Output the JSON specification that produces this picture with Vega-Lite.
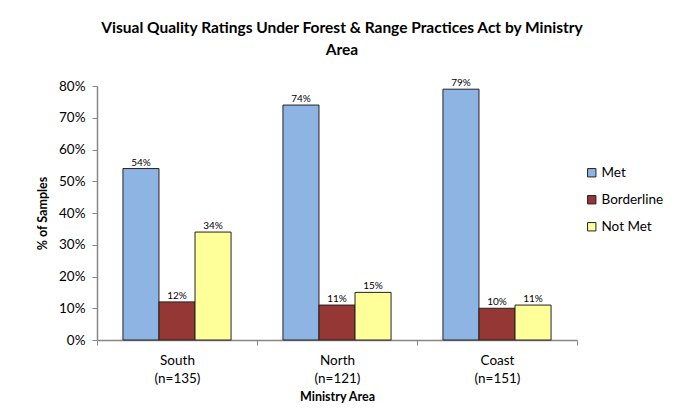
{
  "$schema": "https://vega.github.io/schema/vega-lite/v6.json",
  "width": 480,
  "height": 254,
  "autosize": "none",
  "padding": {"left": 97, "top": 86, "right": 101, "bottom": 70},
  "background": "white",
  "config": {
    "font": "Lato",
    "view": {"stroke": null}
  },
  "title": {
    "text": ["Visual Quality Ratings Under Forest & Range Practices Act by Ministry", "Area"],
    "fontSize": 15.5,
    "fontWeight": "bold",
    "lineHeight": 22,
    "anchor": "middle",
    "offset": 20,
    "dx": 5,
    "color": "black"
  },
  "data": {
    "values": [
      {"area": "South (n=135)", "rating": "Met", "value": 0.54},
      {"area": "South (n=135)", "rating": "Borderline", "value": 0.12},
      {"area": "South (n=135)", "rating": "Not Met", "value": 0.34},
      {"area": "North (n=121)", "rating": "Met", "value": 0.74},
      {"area": "North (n=121)", "rating": "Borderline", "value": 0.11},
      {"area": "North (n=121)", "rating": "Not Met", "value": 0.15},
      {"area": "Coast (n=151)", "rating": "Met", "value": 0.79},
      {"area": "Coast (n=151)", "rating": "Borderline", "value": 0.10},
      {"area": "Coast (n=151)", "rating": "Not Met", "value": 0.11}
    ]
  },
  "encoding": {
    "x": {
      "field": "area",
      "type": "nominal",
      "sort": ["South (n=135)", "North (n=121)", "Coast (n=151)"],
      "scale": {"paddingInner": 0, "paddingOuter": 0},
      "axis": {
        "title": "Ministry Area",
        "titleFontSize": 12.5,
        "titleFontWeight": "bold",
        "titleColor": "black",
        "titlePadding": 6,
        "labelAngle": 0,
        "labelExpr": "split(datum.label, ' ')",
        "labelLineHeight": 18,
        "labelFontSize": 13.5,
        "labelColor": "black",
        "labelPadding": 8,
        "tickBand": "extent",
        "tickSize": 5,
        "tickColor": "#868686",
        "domainColor": "#868686",
        "domainWidth": 1.5
      }
    },
    "xOffset": {
      "field": "rating",
      "type": "nominal",
      "sort": ["Met", "Borderline", "Not Met"],
      "scale": {"paddingInner": 0, "paddingOuter": 0.72}
    },
    "y": {
      "field": "value",
      "type": "quantitative",
      "scale": {"domain": [0, 0.8]},
      "axis": {
        "title": "% of Samples",
        "titleFontSize": 12.5,
        "titleFontWeight": "bold",
        "titleColor": "black",
        "titlePadding": 9,
        "values": [0, 0.1, 0.2, 0.3, 0.4, 0.5, 0.6, 0.7, 0.8],
        "format": ".0%",
        "grid": false,
        "labelFontSize": 13.5,
        "labelColor": "black",
        "labelPadding": 7,
        "tickColor": "#868686",
        "tickSize": 5,
        "domainColor": "#868686",
        "domainWidth": 1.5
      }
    }
  },
  "layer": [
    {
      "mark": {"type": "bar", "stroke": "#222222", "strokeWidth": 1},
      "encoding": {
        "color": {
          "field": "rating",
          "type": "nominal",
          "sort": ["Met", "Borderline", "Not Met"],
          "scale": {"domain": ["Met", "Borderline", "Not Met"], "range": ["#8EB4E3", "#953735", "#FFFF99"]},
          "legend": {
            "title": null,
            "orient": "none",
            "legendX": 488,
            "legendY": 80,
            "symbolType": "square",
            "symbolSize": 70,
            "symbolStrokeColor": "#222222",
            "symbolStrokeWidth": 1,
            "labelFontSize": 13.5,
            "labelColor": "black",
            "rowPadding": 12,
            "labelOffset": 3
          }
        }
      }
    },
    {
      "mark": {"type": "text", "dy": -6, "fontSize": 10, "color": "black"},
      "encoding": {
        "text": {"field": "value", "type": "quantitative", "format": ".0%"}
      }
    }
  ]
}
